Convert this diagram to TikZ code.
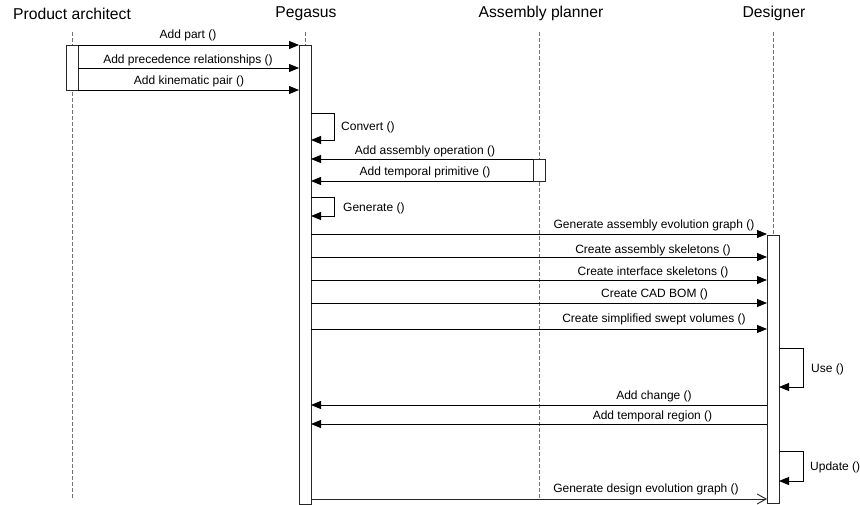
\documentclass[tikz,border=0pt]{standalone}
\usepackage{fontspec}
\setmainfont{Liberation Sans}
\usetikzlibrary{arrows.meta}
\begin{document}
\begin{tikzpicture}[x=1pt,y=-1pt,
  lifeline/.style={draw=black!55, dash pattern=on 4pt off 2pt, line width=0.9pt},
  actbox/.style={draw=black!85, fill=white, line width=0.9pt, inner sep=0pt, minimum width=12pt},
  msg/.style={draw=black, line width=0.9pt, -{Triangle[length=10pt,width=8pt]}},
  ret/.style={draw=black!85, line width=0.9pt, -{Straight Barb[length=9pt,width=10pt]}},
  hdr/.style={font=\fontsize{15.7}{18}\selectfont, inner sep=0pt},
  lbl/.style={font=\fontsize{12}{14}\selectfont, inner sep=0pt},
]
\useasboundingbox (0,0) rectangle (860,505);

% headers
\node[hdr] (hPA) at (72,13.5) {Product architect};
\node[hdr] (hPG) at (306,13.5) {Pegasus};
\node[hdr] (hAP) at (541,13.5) {Assembly planner};
\node[hdr] (hDS) at (774,13.5) {Designer};

% lifeline ends
\coordinate (lPAt) at (72,32);  \coordinate (lPAb) at (72,498);
\coordinate (lPGt) at (305,32); \coordinate (lPGb) at (305,498);
\coordinate (lAPt) at (539,32); \coordinate (lAPb) at (539,498);
\coordinate (lDSt) at (773,32); \coordinate (lDSb) at (773,498);
\draw[lifeline] (lPAt) -- (lPAb);
\draw[lifeline] (lPGt) -- (lPGb);
\draw[lifeline] (lAPt) -- (lAPb);
\draw[lifeline] (lDSt) -- (lDSb);

% activation boxes
\node[actbox, minimum height=45pt] (aPA) at (72,67.5) {};
\node[actbox, minimum height=459pt] (aPG) at (305,274.5) {};
\node[actbox, minimum height=22pt] (aAP) at (539,170) {};
\node[actbox, minimum height=268pt] (aDS) at (773,369) {};

% messages from Product architect
\coordinate (m1s) at (78,45);  \coordinate (m1e) at (299,45);
\coordinate (m2s) at (78,68);  \coordinate (m2e) at (299,68);
\coordinate (m3s) at (78,90);  \coordinate (m3e) at (299,90);
\draw[msg] (m1s) -- (m1e);
\draw[msg] (m2s) -- (m2e);
\draw[msg] (m3s) -- (m3e);
\node[lbl] (t1) at (188,35) {Add part ()};
\node[lbl] (t2) at (188,60) {Add precedence relationships ()};
\node[lbl] (t3) at (189,81) {Add kinematic pair ()};

% Convert loop
\coordinate (c1) at (311,113); \coordinate (c2) at (334,113);
\coordinate (c3) at (334,140); \coordinate (c4) at (311,140);
\draw[msg] (c1) -- (c2) -- (c3) -- (c4);
\node[lbl, anchor=west] (tc) at (341,127) {Convert ()};

% from Assembly planner
\coordinate (m4s) at (533,159); \coordinate (m4e) at (311,159);
\coordinate (m5s) at (533,181); \coordinate (m5e) at (311,181);
\draw[msg] (m4s) -- (m4e);
\draw[msg] (m5s) -- (m5e);
\node[lbl] (t4) at (425,151) {Add assembly operation ()};
\node[lbl] (t5) at (425,172) {Add temporal primitive ()};

% Generate loop
\coordinate (g1) at (311,197); \coordinate (g2) at (334,197);
\coordinate (g3) at (334,216); \coordinate (g4) at (311,216);
\draw[msg] (g1) -- (g2) -- (g3) -- (g4);
\node[lbl, anchor=west] (tg) at (343,208) {Generate ()};

% to Designer
\coordinate (m6s) at (311,234);  \coordinate (m6e) at (767,234);
\coordinate (m7s) at (311,257);  \coordinate (m7e) at (767,257);
\coordinate (m8s) at (311,280);  \coordinate (m8e) at (767,280);
\coordinate (m9s) at (311,303);  \coordinate (m9e) at (767,303);
\coordinate (m10s) at (311,329); \coordinate (m10e) at (767,329);
\draw[msg] (m6s) -- (m6e);
\draw[msg] (m7s) -- (m7e);
\draw[msg] (m8s) -- (m8e);
\draw[msg] (m9s) -- (m9e);
\draw[msg] (m10s) -- (m10e);
\node[lbl] (t6) at (654,225) {Generate assembly evolution graph ()};
\node[lbl] (t7) at (653,250.5) {Create assembly skeletons ()};
\node[lbl] (t8) at (653,272.5) {Create interface skeletons ()};
\node[lbl] (t9) at (654.5,294) {Create CAD BOM ()};
\node[lbl] (t10) at (654,319) {Create simplified swept volumes ()};

% Use loop
\coordinate (u1) at (779,348); \coordinate (u2) at (803,348);
\coordinate (u3) at (803,387); \coordinate (u4) at (779,387);
\draw[msg] (u1) -- (u2) -- (u3) -- (u4);
\node[lbl, anchor=west] (tu) at (811,369) {Use ()};

% from Designer
\coordinate (m11s) at (767,405); \coordinate (m11e) at (311,405);
\coordinate (m12s) at (767,424); \coordinate (m12e) at (311,424);
\draw[msg] (m11s) -- (m11e);
\draw[msg] (m12s) -- (m12e);
\node[lbl] (t11) at (654,396) {Add change ()};
\node[lbl] (t12) at (652.5,416) {Add temporal region ()};

% Update loop
\coordinate (p1) at (779,451); \coordinate (p2) at (803,451);
\coordinate (p3) at (803,481); \coordinate (p4) at (779,481);
\draw[msg] (p1) -- (p2) -- (p3) -- (p4);
\node[lbl, anchor=west] (tp) at (810,467) {Update ()};

% final message
\coordinate (m13s) at (311,499); \coordinate (m13e) at (767,499);
\draw[ret] (m13s) -- (m13e);
\node[lbl] (t13) at (646,489) {Generate design evolution graph ()};
\end{tikzpicture}
\end{document}
